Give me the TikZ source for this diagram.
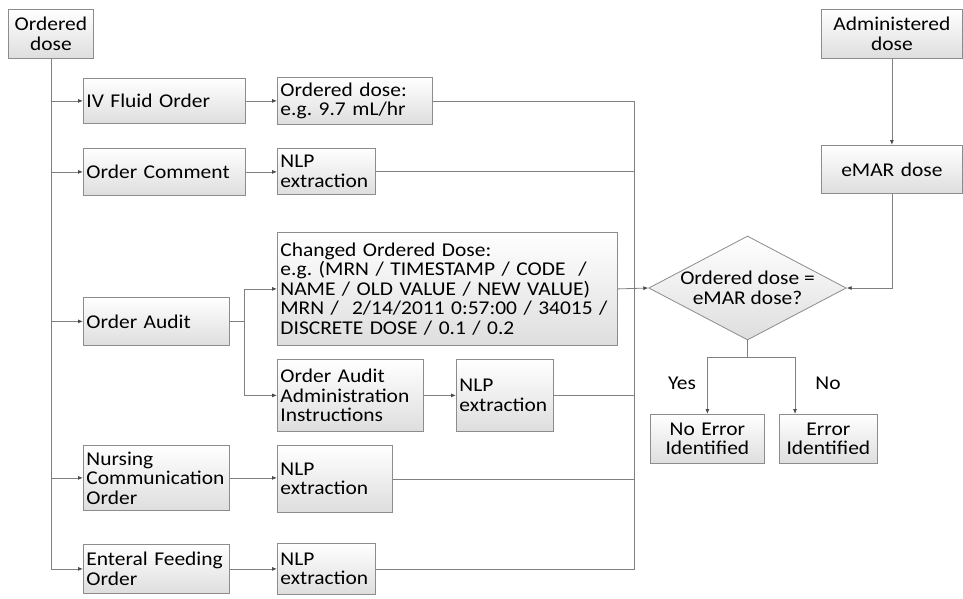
\documentclass[tikz,border=0pt]{standalone}
\usepackage{fontspec}
\setmainfont{Carlito}[FakeStretch=1.1]
\frenchspacing
\usetikzlibrary{arrows.meta,shapes.geometric}
\definecolor{edgegray}{HTML}{8C8C8C}
\definecolor{wiregray}{HTML}{808080}
\definecolor{tipgray}{HTML}{4A4A4A}
\tikzset{
  boxbase/.style={draw=edgegray, line width=0.8pt, top color=white, bottom color=black!13,
    inner xsep=3pt, inner ysep=0pt, font=\fontsize{19.5}{19.5}\selectfont, text=black},
  lbox/.style={boxbase, align=left},
  cbox/.style={boxbase, align=center},
  decision/.style={boxbase, diamond, aspect=1.9, inner sep=0pt, align=center,
    minimum width=195pt, minimum height=103pt},
  wire/.style={draw=wiregray, line width=0.8pt},
  arr/.style={wire, -{Latex[length=5pt,width=4pt,color=tipgray]}},
  lbl/.style={font=\fontsize{19.5}{19.5}\selectfont, inner sep=0pt},
}
% \placebox{name}{left}{top}{width}{height}{style}{text}
\newcommand\placebox[7]{%
  \pgfmathsetmacro\boxtw{#4-6}%
  \node[#6, anchor=north west, minimum width=#4pt, minimum height=#5pt,
        text width=\boxtw pt] (#1) at (#2,#3) {#7};}

\begin{document}
\begin{tikzpicture}[x=1pt,y=-1pt]
\fill[white] (0,0) rectangle (963,598);
\useasboundingbox (0,0) rectangle (963,598);

% ordered-dose sources
\placebox{od}{8}{9}{85}{49}{cbox}{Ordered\\dose}
\placebox{iv}{83}{78}{162}{45}{lbox}{IV Fluid Order}
\placebox{oc}{83}{148}{162}{47}{lbox}{Order Comment}
\placebox{oa}{83}{297}{146}{48}{lbox}{Order Audit}
\placebox{nc}{83}{445}{146}{65}{lbox}{Nursing\\Communication\\Order}
\placebox{ef}{83}{544}{146}{49}{lbox}{Enteral Feeding\\Order}

% extracted values
\placebox{odv}{277}{77}{155}{47}{lbox}{Ordered dose:\\e.g. 9.7 mL/hr}
\placebox{nlp1}{277}{148}{98}{46}{lbox}{NLP\\extraction}
\placebox{cod}{277}{232}{340}{113}{lbox}{Changed Ordered Dose:\\e.g. (MRN / TIMESTAMP / CODE~ /\\NAME / OLD VALUE / NEW VALUE)\\MRN /~ 2/14/2011 0:57:00 / 34015 /\\DISCRETE DOSE / 0.1 / 0.2}
\placebox{oaai}{277}{359}{146}{72}{lbox}{Order Audit\\Administration\\Instructions}
\placebox{nlp2}{456}{359}{97}{72}{lbox}{NLP\\extraction}
\placebox{nlp3}{277}{445}{115}{67}{lbox}{NLP\\extraction}
\placebox{nlp4}{277}{543}{98}{51}{lbox}{NLP\\extraction}

% administered side
\placebox{ad}{821}{9}{141}{49}{cbox}{Administered\\dose}
\placebox{emar}{821}{145}{141}{48}{cbox}{eMAR dose}

% comparison and outcomes
\node[decision] (dia) at (747.5,288) {Ordered dose =\\eMAR dose?};
\placebox{ne}{650}{414}{114}{49}{cbox}{No Error\\Identified}
\placebox{ei}{779}{414}{98}{49}{cbox}{Error\\Identified}
\node[lbl] (yes) at (682,383) {Yes};
\node[lbl] (no) at (828,383) {No};

% left trunk
\draw[arr] (od.south) |- (ef.west);
\foreach \n in {iv,oc,oa,nc} \draw[arr] (od.south |- \n.west) -- (\n.west);

% source to value
\draw[arr] (iv.east) -- (odv.west);
\draw[arr] (oc.east) -- (oc.east -| nlp1.west);
\draw[arr] (oa.east) -- ++(15,0) coordinate (oaj) |- (cod.west);
\draw[arr] (oaj) |- (oaai.west);
\draw[arr] (oaai.east) -- (nlp2.west);
\draw[arr] (nc.east) -- (nc.east -| nlp3.west);
\draw[arr] (ef.east) -- (nlp4.west);

% right bus collecting ordered doses
\coordinate (bus) at (634,0);
\draw[wire] (odv.east) -| (bus |- nlp4.east) -- (nlp4.east);
\foreach \n in {nlp1,nlp2,nlp3} \draw[wire] (\n.east) -- (bus |- \n.east);
\draw[arr] (cod.east) -- (dia.west);

% administered dose into decision
\draw[arr] (ad.south) -- (emar.north);
\draw[arr] (emar.south) |- (dia.east);

% decision outcomes
\draw[wire] (dia.south) -- ++(0,17) coordinate (split);
\coordinate (eiin) at (795,414);
\draw[arr] (split) -| (ne.north);
\draw[arr] (split) -| (eiin);
\end{tikzpicture}
\end{document}
